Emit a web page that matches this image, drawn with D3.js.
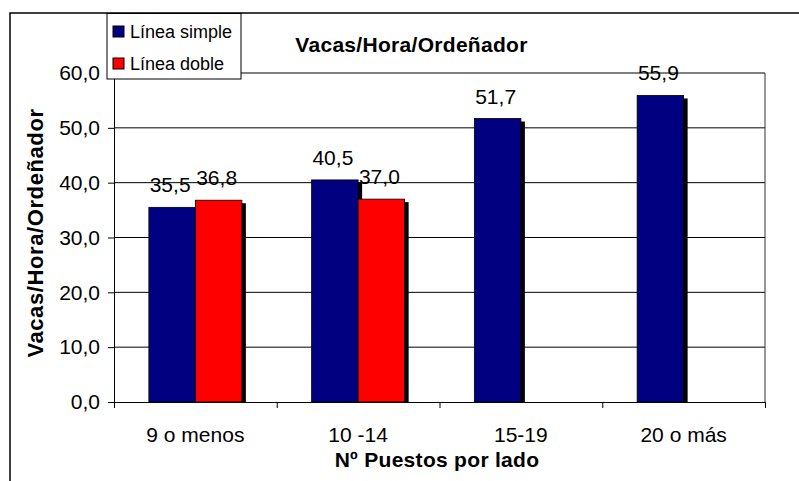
<!DOCTYPE html>
<html>
<head>
<meta charset="utf-8">
<script src="https://cdn.jsdelivr.net/npm/d3@7"></script>
<style>
  body { margin: 0; background: #fff; }
  svg { display: block; font-family: Arial, "Liberation Sans", sans-serif; }
</style>
</head>
<body>
<svg id="chart" width="799" height="481"></svg>
<script>
const categories = ["9 o menos", "10 -14", "15-19", "20 o más"];
const seriesNames = ["Línea simple", "Línea doble"];
const simpleValues = [35.5, 40.5, 51.7, 55.9];
const dobleValues = [36.8, 37.0, null, null];
const yTicks = [0, 10, 20, 30, 40, 50, 60];
const colors = ["#000080", "#ff0000"];
const titleText = "Vacas/Hora/Ordeñador";
const xTitleText = "Nº Puestos por lado";
const yTitleText = "Vacas/Hora/Ordeñador";

const svg = d3.select("#chart");
const plot = { left: 114, right: 765, top: 73, bottom: 402 };
const fmt = v => v.toFixed(1).replace(".", ",");

// outer chart frame (extends beyond window)
svg.append("rect").attr("x", 10).attr("y", 13).attr("width", 820).attr("height", 500)
  .attr("fill", "none").attr("stroke", "#000").attr("stroke-width", 1.5);

const x = d3.scaleBand().domain(categories).range([plot.left, plot.right]).paddingInner(0).paddingOuter(0);
const x1 = d3.scaleBand().domain(seriesNames).range([0, x.bandwidth()]).paddingInner(0).paddingOuter(0.75);
const y = d3.scaleLinear().domain([0, 60]).range([plot.bottom, plot.top]);

// gridlines
svg.append("g").selectAll("line").data(yTicks.filter(d => d > 0)).join("line")
  .attr("x1", plot.left).attr("x2", plot.right)
  .attr("y1", d => y(d)).attr("y2", d => y(d))
  .attr("stroke", "#000").attr("stroke-width", 1);
// plot right border
svg.append("line").attr("x1", plot.right).attr("x2", plot.right)
  .attr("y1", plot.top).attr("y2", plot.bottom).attr("stroke", "#333").attr("stroke-width", 1);

// bars
svg.append("clipPath").attr("id", "plotclip").append("rect")
  .attr("x", plot.left).attr("y", 0).attr("width", plot.right - plot.left + 10).attr("height", plot.bottom);
const seriesData = [simpleValues, dobleValues];
seriesData.forEach((vals, si) => {
  const g = svg.append("g").attr("clip-path", "url(#plotclip)");
  const data = vals.map((v, i) => ({ cat: categories[i], v })).filter(d => d.v != null);
  g.selectAll("rect.shadow").data(data).join("rect").attr("class", "shadow")
    .attr("x", d => x(d.cat) + x1(seriesNames[si]) + 4)
    .attr("y", d => y(d.v) + 3)
    .attr("width", x1.bandwidth())
    .attr("height", d => y(0) - y(d.v))
    .attr("fill", "#000");
  g.selectAll("rect.bar").data(data).join("rect").attr("class", "bar")
    .attr("x", d => x(d.cat) + x1(seriesNames[si]))
    .attr("y", d => y(d.v))
    .attr("width", x1.bandwidth())
    .attr("height", d => y(0) - y(d.v))
    .attr("fill", colors[si]).attr("stroke", "#000").attr("stroke-width", 0.8);
});
// data labels
seriesData.forEach((vals, si) => {
  const data = vals.map((v, i) => ({ cat: categories[i], v })).filter(d => d.v != null);
  svg.append("g").selectAll("text").data(data).join("text")
    .attr("x", d => x(d.cat) + x1(seriesNames[si]) + x1.bandwidth() / 2 - 2)
    .attr("y", d => y(d.v) - 15)
    .attr("text-anchor", "middle")
    .attr("font-size", 21).attr("fill", "#000")
    .text(d => fmt(d.v));
});

// y axis
const yAxis = svg.append("g").attr("transform", `translate(${plot.left},0)`)
  .call(d3.axisLeft(y).tickValues(yTicks).tickFormat(fmt).tickSize(6).tickSizeOuter(0).tickPadding(8));
yAxis.selectAll("text").attr("font-size", 21).attr("fill", "#000").attr("font-family", "Arial, 'Liberation Sans', sans-serif");
yAxis.selectAll("line, path").attr("stroke", "#000");

// x axis: boundary ticks
const xb = d3.scaleLinear().domain([0, categories.length]).range([plot.left, plot.right]);
const xAxisTicks = svg.append("g").attr("transform", `translate(0,${plot.bottom})`)
  .call(d3.axisBottom(xb).tickValues(d3.range(0, categories.length + 1)).tickFormat("").tickSize(6).tickSizeOuter(0));
xAxisTicks.selectAll("line, path").attr("stroke", "#000");
const xAxisLabels = svg.append("g").attr("transform", `translate(0,${plot.bottom})`)
  .call(d3.axisBottom(x).tickSize(0).tickPadding(25));
xAxisLabels.select("path").remove();
xAxisLabels.selectAll("text").attr("font-size", 21).attr("fill", "#000").attr("font-family", "Arial, 'Liberation Sans', sans-serif");

// titles
svg.append("text").attr("x", 411.5).attr("y", 51.5).attr("text-anchor", "middle")
  .attr("font-size", 21).attr("letter-spacing", 0.3).attr("font-weight", "bold").text(titleText);
svg.append("text").attr("x", 437).attr("y", 467).attr("text-anchor", "middle")
  .attr("font-size", 21).attr("letter-spacing", 0.3).attr("font-weight", "bold").text(xTitleText);
svg.append("text").attr("transform", "translate(43,233) rotate(-90)").attr("text-anchor", "middle")
  .attr("font-size", 22).attr("letter-spacing", 0.6).attr("font-weight", "bold").text(yTitleText);

// legend
const legend = svg.append("g").attr("transform", "translate(107,13.5)");
legend.append("rect").attr("width", 134).attr("height", 65.5).attr("fill", "#fff").attr("stroke", "#000").attr("stroke-width", 1);
seriesNames.forEach((name, i) => {
  legend.append("rect").attr("x", 6).attr("y", 12.5 + i * 32).attr("width", 11).attr("height", 11)
    .attr("fill", colors[i]).attr("stroke", "#000").attr("stroke-width", 1);
  legend.append("text").attr("x", 23).attr("y", 24 + i * 32).attr("font-size", 18).attr("fill", "#000").text(name);
});
</script>
</body>
</html>
